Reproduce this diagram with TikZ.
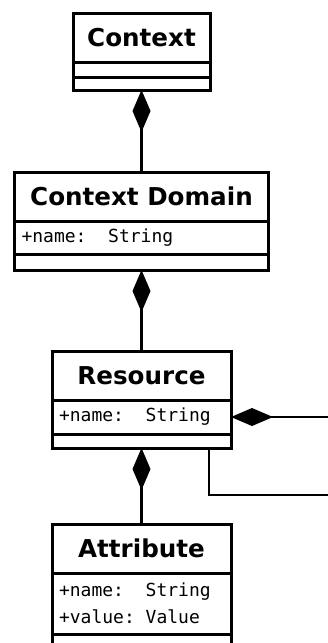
\documentclass[tikz,border=0pt]{standalone}
\usepackage{fontspec}
\usepackage{tikz}
\usetikzlibrary{positioning}
\usetikzlibrary{arrows.meta}
\newfontfamily\umlsans{DejaVu Sans}
\newfontfamily\umlmono{DejaVu Sans Mono}
\newcommand\monogap{\hphantom{0}}

\begin{document}
\begin{tikzpicture}
	\tikzset{box/.style = {draw, line width=1.5pt, inner sep=0pt, outer sep=0pt},
		title/.style = {box, minimum width=#1, minimum height=24.5pt, font=\umlsans\bfseries\fontsize{12.3}{14}\selectfont},
		field/.style = {box, text width=#1, inner xsep=3.5pt, align=left, font=\umlmono\fontsize{9}{13.5}\selectfont},
		edge/.style = {line width=1.4pt, {Diamond[length=21pt,width=9pt]}-}}
	\useasboundingbox (0,0) rectangle (163.5pt,-321.5pt);
	\node[title=68.5pt] at (70.75pt,-18.75pt) (ctx) {Context};
	\node[box, minimum width=68.5pt, minimum height=7.5pt, below=0pt of ctx] (ctxattr) {};
	\node[box, minimum width=68.5pt, minimum height=6.5pt, below=0pt of ctxattr] (ctxops) {};
	\node[title=127pt, below=41pt of ctxops] (dom) {Context Domain};
	\node[field=120pt, minimum height=16.5pt, below=0pt of dom] (domattr) {+name:\monogap\monogap String};
	\node[box, minimum width=127pt, minimum height=8pt, below=0pt of domattr] (domops) {};
	\node[title=89.5pt, below=40.5pt of domops] (res) {Resource};
	\node[field=82.5pt, minimum height=17pt, below=0pt of res] (resattr) {+name:\monogap\monogap String};
	\node[box, minimum width=89.5pt, minimum height=7pt, below=0pt of resattr] (resops) {};
	\node[title=89.5pt, below=38pt of resops] (attr) {Attribute};
	\node[field=82.5pt, minimum height=30.5pt, below=0pt of attr] (attrattr) {+name:\monogap\monogap String\\+value:\monogap Value};
	\node[box, minimum width=89.5pt, minimum height=8pt, below=0pt of attrattr] (attrops) {};
	\coordinate (outA) at ([xshift=60pt]resattr.east);
	\coordinate (outB) at ([xshift=60pt,yshift=-23.5pt]resops.south east);
	\draw[edge] (ctxops) -- (dom);
	\draw[edge] (domops) -- (res);
	\draw[edge] (resops) -- (attr);
	\draw[edge] (resattr.east) -- (outA);
	\draw[line width=1.4pt] ([xshift=-11pt]resops.south east) |- (outB);
\end{tikzpicture}
\end{document}
